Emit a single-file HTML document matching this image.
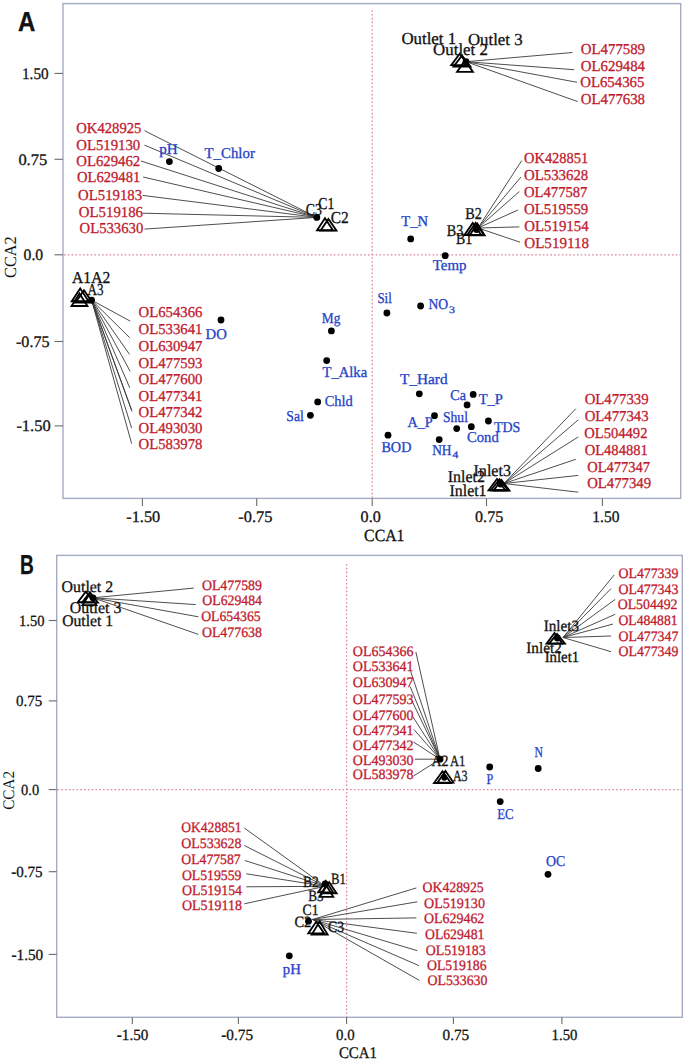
<!DOCTYPE html>
<html><head><meta charset="utf-8"><style>
html,body{margin:0;padding:0;background:#fff;}
body{width:685px;height:1060px;overflow:hidden;}
svg{display:block;}
</style></head><body>
<svg width="685" height="1060" viewBox="0 0 685 1060" text-rendering="geometricPrecision">
<rect width="685" height="1060" fill="#fff"/>
<rect x="63" y="3.6" width="617.7" height="494.79999999999995" fill="none" stroke="#a5abc3" stroke-width="1.4"/>
<line x1="64" y1="254.8" x2="680" y2="254.8" stroke="#dd8499" stroke-width="1.25" stroke-dasharray="1.6 2.2"/>
<line x1="372.2" y1="10.2" x2="372.2" y2="498" stroke="#dd8499" stroke-width="1.25" stroke-dasharray="1.6 2.2"/>
<line x1="54.5" y1="73.4" x2="63" y2="73.4" stroke="#6a6a6a" stroke-width="1.1"/>
<text x="22.00" y="78.80" font-size="16" fill="#111" stroke="#111" stroke-width="0.3" textLength="26.60" lengthAdjust="spacingAndGlyphs" font-family="Liberation Serif">1.50</text>
<line x1="54.5" y1="159.3" x2="63" y2="159.3" stroke="#6a6a6a" stroke-width="1.1"/>
<text x="18.40" y="164.70" font-size="16" fill="#111" stroke="#111" stroke-width="0.3" textLength="28.80" lengthAdjust="spacingAndGlyphs" font-family="Liberation Serif">0.75</text>
<line x1="54.5" y1="254.8" x2="63" y2="254.8" stroke="#6a6a6a" stroke-width="1.1"/>
<text x="23.60" y="260.20" font-size="16" fill="#111" stroke="#111" stroke-width="0.3" textLength="19.60" lengthAdjust="spacingAndGlyphs" font-family="Liberation Serif">0.0</text>
<line x1="54.5" y1="341.5" x2="63" y2="341.5" stroke="#6a6a6a" stroke-width="1.1"/>
<text x="16.00" y="346.90" font-size="16" fill="#111" stroke="#111" stroke-width="0.3" textLength="33.45" lengthAdjust="spacingAndGlyphs" font-family="Liberation Serif">-0.75</text>
<line x1="54.5" y1="425.9" x2="63" y2="425.9" stroke="#6a6a6a" stroke-width="1.1"/>
<text x="16.40" y="431.30" font-size="16" fill="#111" stroke="#111" stroke-width="0.3" textLength="34.25" lengthAdjust="spacingAndGlyphs" font-family="Liberation Serif">-1.50</text>
<line x1="142.4" y1="498.4" x2="142.4" y2="506" stroke="#6a6a6a" stroke-width="1.1"/>
<text x="126.30" y="522.20" font-size="16" fill="#111" stroke="#111" stroke-width="0.3" textLength="33.95" lengthAdjust="spacingAndGlyphs" font-family="Liberation Serif">-1.50</text>
<line x1="256.7" y1="498.4" x2="256.7" y2="506" stroke="#6a6a6a" stroke-width="1.1"/>
<text x="238.30" y="522.20" font-size="16" fill="#111" stroke="#111" stroke-width="0.3" textLength="34.05" lengthAdjust="spacingAndGlyphs" font-family="Liberation Serif">-0.75</text>
<line x1="372.2" y1="498.4" x2="372.2" y2="506" stroke="#6a6a6a" stroke-width="1.1"/>
<text x="360.60" y="522.20" font-size="16" fill="#111" stroke="#111" stroke-width="0.3" textLength="20.10" lengthAdjust="spacingAndGlyphs" font-family="Liberation Serif">0.0</text>
<line x1="486.5" y1="498.4" x2="486.5" y2="506" stroke="#6a6a6a" stroke-width="1.1"/>
<text x="475.10" y="522.20" font-size="16" fill="#111" stroke="#111" stroke-width="0.3" textLength="28.10" lengthAdjust="spacingAndGlyphs" font-family="Liberation Serif">0.75</text>
<line x1="602.4" y1="498.4" x2="602.4" y2="506" stroke="#6a6a6a" stroke-width="1.1"/>
<text x="592.30" y="522.20" font-size="16" fill="#111" stroke="#111" stroke-width="0.3" textLength="27.10" lengthAdjust="spacingAndGlyphs" font-family="Liberation Serif">1.50</text>
<text x="364.10" y="541.40" font-size="17" fill="#111" stroke="#111" stroke-width="0.3" textLength="40.44" lengthAdjust="spacingAndGlyphs" font-family="Liberation Serif">CCA1</text>
<text transform="translate(16.20,277.90) rotate(-90)" x="0" y="0" font-size="17" fill="#111" textLength="41.54" lengthAdjust="spacingAndGlyphs" font-family="Liberation Serif">CCA2</text>
<text x="18.00" y="30.80" font-size="27.5" fill="#111" stroke="#111" stroke-width="0.3" textLength="17.35" lengthAdjust="spacingAndGlyphs" font-family="Liberation Sans" font-weight="bold">A</text>
<line x1="466" y1="61.7" x2="572.4" y2="52.5" stroke="#3a3a3a" stroke-width="0.9"/>
<line x1="466" y1="61.7" x2="574.2" y2="69.7" stroke="#3a3a3a" stroke-width="0.9"/>
<line x1="466" y1="61.7" x2="577.1" y2="82.3" stroke="#3a3a3a" stroke-width="0.9"/>
<line x1="466" y1="61.7" x2="577.7" y2="101.6" stroke="#3a3a3a" stroke-width="0.9"/>
<text x="580.80" y="53.60" font-size="15.1" fill="#bf1a2e" stroke="#bf1a2e" stroke-width="0.3" textLength="64.24" lengthAdjust="spacingAndGlyphs" font-family="Liberation Serif">OL477589</text>
<text x="580.80" y="70.60" font-size="15.1" fill="#bf1a2e" stroke="#bf1a2e" stroke-width="0.3" textLength="64.24" lengthAdjust="spacingAndGlyphs" font-family="Liberation Serif">OL629484</text>
<text x="580.20" y="86.90" font-size="15.1" fill="#bf1a2e" stroke="#bf1a2e" stroke-width="0.3" textLength="64.24" lengthAdjust="spacingAndGlyphs" font-family="Liberation Serif">OL654365</text>
<text x="580.80" y="103.90" font-size="15.1" fill="#bf1a2e" stroke="#bf1a2e" stroke-width="0.3" textLength="64.24" lengthAdjust="spacingAndGlyphs" font-family="Liberation Serif">OL477638</text>
<path d="M459.70,53.78 L468.13,65.17 L451.27,65.17 Z" fill="none" stroke="#000" stroke-width="1.85" stroke-linejoin="miter"/>
<path d="M462.00,55.48 L470.43,66.67 L453.57,66.67 Z" fill="none" stroke="#000" stroke-width="1.85" stroke-linejoin="miter"/>
<path d="M465.00,60.48 L472.93,71.88 L457.07,71.88 Z" fill="none" stroke="#000" stroke-width="1.85" stroke-linejoin="miter"/>
<circle cx="466" cy="61.7" r="3.4" fill="#000"/>
<text x="401.40" y="44.30" font-size="16.8" fill="#111" stroke="#111" stroke-width="0.3" textLength="54.79" lengthAdjust="spacingAndGlyphs" font-family="Liberation Serif">Outlet 1</text>
<text x="467.90" y="45.30" font-size="16.8" fill="#111" stroke="#111" stroke-width="0.3" textLength="54.69" lengthAdjust="spacingAndGlyphs" font-family="Liberation Serif">Outlet 3</text>
<text x="433.10" y="55.00" font-size="16.8" fill="#111" stroke="#111" stroke-width="0.3" textLength="54.79" lengthAdjust="spacingAndGlyphs" font-family="Liberation Serif">Outlet 2</text>
<line x1="144.5" y1="130.7" x2="316.8" y2="217.4" stroke="#3a3a3a" stroke-width="0.9"/>
<line x1="144.5" y1="145.1" x2="316.8" y2="217.4" stroke="#3a3a3a" stroke-width="0.9"/>
<line x1="140.9" y1="161" x2="316.8" y2="217.4" stroke="#3a3a3a" stroke-width="0.9"/>
<line x1="143.1" y1="177" x2="316.8" y2="217.4" stroke="#3a3a3a" stroke-width="0.9"/>
<line x1="142.7" y1="195.4" x2="316.8" y2="217.4" stroke="#3a3a3a" stroke-width="0.9"/>
<line x1="142.7" y1="213.2" x2="316.8" y2="217.4" stroke="#3a3a3a" stroke-width="0.9"/>
<line x1="144.5" y1="229.1" x2="316.8" y2="217.4" stroke="#3a3a3a" stroke-width="0.9"/>
<text x="76.30" y="133.30" font-size="15.1" fill="#bf1a2e" stroke="#bf1a2e" stroke-width="0.3" textLength="65.06" lengthAdjust="spacingAndGlyphs" font-family="Liberation Serif">OK428925</text>
<text x="76.30" y="149.80" font-size="15.1" fill="#bf1a2e" stroke="#bf1a2e" stroke-width="0.3" textLength="63.94" lengthAdjust="spacingAndGlyphs" font-family="Liberation Serif">OL519130</text>
<text x="76.30" y="165.70" font-size="15.1" fill="#bf1a2e" stroke="#bf1a2e" stroke-width="0.3" textLength="63.94" lengthAdjust="spacingAndGlyphs" font-family="Liberation Serif">OL629462</text>
<text x="77.10" y="182.30" font-size="15.1" fill="#bf1a2e" stroke="#bf1a2e" stroke-width="0.3" textLength="63.14" lengthAdjust="spacingAndGlyphs" font-family="Liberation Serif">OL629481</text>
<text x="78.10" y="200.10" font-size="15.1" fill="#bf1a2e" stroke="#bf1a2e" stroke-width="0.3" textLength="63.94" lengthAdjust="spacingAndGlyphs" font-family="Liberation Serif">OL519183</text>
<text x="78.80" y="217.30" font-size="15.1" fill="#bf1a2e" stroke="#bf1a2e" stroke-width="0.3" textLength="64.24" lengthAdjust="spacingAndGlyphs" font-family="Liberation Serif">OL519186</text>
<text x="79.60" y="232.60" font-size="15.1" fill="#bf1a2e" stroke="#bf1a2e" stroke-width="0.3" textLength="63.64" lengthAdjust="spacingAndGlyphs" font-family="Liberation Serif">OL533630</text>
<text x="305.80" y="214.60" font-size="16.6" fill="#111" stroke="#111" stroke-width="0.3" textLength="16.16" lengthAdjust="spacingAndGlyphs" font-family="Liberation Serif">C3</text>
<path d="M325.00,218.28 L332.93,230.27 L317.07,230.27 Z" fill="none" stroke="#000" stroke-width="1.85" stroke-linejoin="miter"/>
<path d="M328.50,218.98 L336.43,230.57 L320.57,230.57 Z" fill="none" stroke="#000" stroke-width="1.85" stroke-linejoin="miter"/>
<circle cx="316.8" cy="217.4" r="3.4" fill="#000"/>
<text x="318.30" y="209.40" font-size="16.6" fill="#111" stroke="#111" stroke-width="0.3" textLength="15.96" lengthAdjust="spacingAndGlyphs" font-family="Liberation Serif">C1</text>
<text x="330.80" y="222.50" font-size="16.6" fill="#111" stroke="#111" stroke-width="0.3" textLength="17.95" lengthAdjust="spacingAndGlyphs" font-family="Liberation Serif">C2</text>
<line x1="478" y1="228" x2="521.7" y2="160.6" stroke="#3a3a3a" stroke-width="0.9"/>
<line x1="478" y1="228" x2="520.9" y2="177.1" stroke="#3a3a3a" stroke-width="0.9"/>
<line x1="478" y1="228" x2="519.3" y2="191.6" stroke="#3a3a3a" stroke-width="0.9"/>
<line x1="478" y1="228" x2="518" y2="210" stroke="#3a3a3a" stroke-width="0.9"/>
<line x1="478" y1="228" x2="519.3" y2="226.9" stroke="#3a3a3a" stroke-width="0.9"/>
<line x1="478" y1="228" x2="520.1" y2="242.2" stroke="#3a3a3a" stroke-width="0.9"/>
<text x="524.00" y="163.30" font-size="15.1" fill="#bf1a2e" stroke="#bf1a2e" stroke-width="0.3" textLength="64.26" lengthAdjust="spacingAndGlyphs" font-family="Liberation Serif">OK428851</text>
<text x="524.00" y="180.10" font-size="15.1" fill="#bf1a2e" stroke="#bf1a2e" stroke-width="0.3" textLength="64.24" lengthAdjust="spacingAndGlyphs" font-family="Liberation Serif">OL533628</text>
<text x="524.00" y="197.00" font-size="15.1" fill="#bf1a2e" stroke="#bf1a2e" stroke-width="0.3" textLength="63.44" lengthAdjust="spacingAndGlyphs" font-family="Liberation Serif">OL477587</text>
<text x="524.00" y="214.20" font-size="15.1" fill="#bf1a2e" stroke="#bf1a2e" stroke-width="0.3" textLength="64.24" lengthAdjust="spacingAndGlyphs" font-family="Liberation Serif">OL519559</text>
<text x="524.30" y="230.70" font-size="15.1" fill="#bf1a2e" stroke="#bf1a2e" stroke-width="0.3" textLength="64.34" lengthAdjust="spacingAndGlyphs" font-family="Liberation Serif">OL519154</text>
<text x="524.30" y="247.60" font-size="15.1" fill="#bf1a2e" stroke="#bf1a2e" stroke-width="0.3" textLength="64.64" lengthAdjust="spacingAndGlyphs" font-family="Liberation Serif">OL519118</text>
<text x="465.20" y="218.60" font-size="16.6" fill="#111" stroke="#111" stroke-width="0.3" textLength="16.56" lengthAdjust="spacingAndGlyphs" font-family="Liberation Serif">B2</text>
<text x="446.80" y="236.10" font-size="16.6" fill="#111" stroke="#111" stroke-width="0.3" textLength="16.56" lengthAdjust="spacingAndGlyphs" font-family="Liberation Serif">B3</text>
<text x="456.00" y="243.60" font-size="16.6" fill="#111" stroke="#111" stroke-width="0.3" textLength="16.16" lengthAdjust="spacingAndGlyphs" font-family="Liberation Serif">B1</text>
<path d="M472.80,222.98 L481.23,234.97 L464.37,234.97 Z" fill="none" stroke="#000" stroke-width="1.85" stroke-linejoin="miter"/>
<path d="M475.60,222.98 L484.03,234.97 L467.17,234.97 Z" fill="none" stroke="#000" stroke-width="1.85" stroke-linejoin="miter"/>
<path d="M477.20,223.48 L484.63,235.27 L469.77,235.27 Z" fill="none" stroke="#000" stroke-width="1.85" stroke-linejoin="miter"/>
<circle cx="476.5" cy="229.5" r="3.4" fill="#000"/>
<line x1="91.6" y1="300.1" x2="130.2" y2="321.1" stroke="#3a3a3a" stroke-width="0.9"/>
<line x1="91.6" y1="300.1" x2="129.8" y2="337.8" stroke="#3a3a3a" stroke-width="0.9"/>
<line x1="91.6" y1="300.1" x2="129.5" y2="354.4" stroke="#3a3a3a" stroke-width="0.9"/>
<line x1="91.6" y1="300.1" x2="130.2" y2="371.4" stroke="#3a3a3a" stroke-width="0.9"/>
<line x1="91.6" y1="300.1" x2="129.8" y2="387.8" stroke="#3a3a3a" stroke-width="0.9"/>
<line x1="91.6" y1="300.1" x2="131.5" y2="410" stroke="#3a3a3a" stroke-width="0.9"/>
<line x1="91.6" y1="300.1" x2="132.1" y2="411.5" stroke="#3a3a3a" stroke-width="0.9"/>
<line x1="91.6" y1="300.1" x2="131.7" y2="428.2" stroke="#3a3a3a" stroke-width="0.9"/>
<line x1="91.6" y1="300.1" x2="131.7" y2="443.7" stroke="#3a3a3a" stroke-width="0.9"/>
<text x="138.60" y="316.70" font-size="15.1" fill="#bf1a2e" stroke="#bf1a2e" stroke-width="0.3" textLength="63.84" lengthAdjust="spacingAndGlyphs" font-family="Liberation Serif">OL654366</text>
<text x="138.60" y="333.90" font-size="15.1" fill="#bf1a2e" stroke="#bf1a2e" stroke-width="0.3" textLength="63.84" lengthAdjust="spacingAndGlyphs" font-family="Liberation Serif">OL533641</text>
<text x="138.60" y="350.70" font-size="15.1" fill="#bf1a2e" stroke="#bf1a2e" stroke-width="0.3" textLength="63.84" lengthAdjust="spacingAndGlyphs" font-family="Liberation Serif">OL630947</text>
<text x="138.60" y="367.60" font-size="15.1" fill="#bf1a2e" stroke="#bf1a2e" stroke-width="0.3" textLength="63.84" lengthAdjust="spacingAndGlyphs" font-family="Liberation Serif">OL477593</text>
<text x="138.60" y="384.00" font-size="15.1" fill="#bf1a2e" stroke="#bf1a2e" stroke-width="0.3" textLength="63.84" lengthAdjust="spacingAndGlyphs" font-family="Liberation Serif">OL477600</text>
<text x="138.60" y="400.70" font-size="15.1" fill="#bf1a2e" stroke="#bf1a2e" stroke-width="0.3" textLength="63.84" lengthAdjust="spacingAndGlyphs" font-family="Liberation Serif">OL477341</text>
<text x="138.60" y="417.40" font-size="15.1" fill="#bf1a2e" stroke="#bf1a2e" stroke-width="0.3" textLength="63.84" lengthAdjust="spacingAndGlyphs" font-family="Liberation Serif">OL477342</text>
<text x="138.60" y="433.20" font-size="15.1" fill="#bf1a2e" stroke="#bf1a2e" stroke-width="0.3" textLength="63.84" lengthAdjust="spacingAndGlyphs" font-family="Liberation Serif">OL493030</text>
<text x="138.60" y="448.70" font-size="15.1" fill="#bf1a2e" stroke="#bf1a2e" stroke-width="0.3" textLength="63.84" lengthAdjust="spacingAndGlyphs" font-family="Liberation Serif">OL583978</text>
<text x="72.10" y="282.80" font-size="16.6" fill="#111" stroke="#111" stroke-width="0.3" textLength="38.07" lengthAdjust="spacingAndGlyphs" font-family="Liberation Serif">A1A2</text>
<text x="87.50" y="295.30" font-size="16.6" fill="#111" stroke="#111" stroke-width="0.3" textLength="16.03" lengthAdjust="spacingAndGlyphs" font-family="Liberation Serif">A3</text>
<path d="M80.20,288.48 L88.63,301.27 L71.77,301.27 Z" fill="none" stroke="#000" stroke-width="1.85" stroke-linejoin="miter"/>
<path d="M84.00,290.28 L92.43,302.57 L75.57,302.57 Z" fill="none" stroke="#000" stroke-width="1.85" stroke-linejoin="miter"/>
<path d="M79.50,293.48 L87.43,305.97 L71.57,305.97 Z" fill="none" stroke="#000" stroke-width="1.85" stroke-linejoin="miter"/>
<circle cx="91.6" cy="300.1" r="3.4" fill="#000"/>
<line x1="504" y1="483.5" x2="575.8" y2="408.7" stroke="#3a3a3a" stroke-width="0.9"/>
<line x1="504" y1="483.5" x2="578.2" y2="419.9" stroke="#3a3a3a" stroke-width="0.9"/>
<line x1="504" y1="483.5" x2="578.2" y2="437" stroke="#3a3a3a" stroke-width="0.9"/>
<line x1="504" y1="483.5" x2="575.8" y2="459.3" stroke="#3a3a3a" stroke-width="0.9"/>
<line x1="504" y1="483.5" x2="578.2" y2="475.4" stroke="#3a3a3a" stroke-width="0.9"/>
<line x1="504" y1="483.5" x2="578.2" y2="492.2" stroke="#3a3a3a" stroke-width="0.9"/>
<text x="584.70" y="404.40" font-size="15.1" fill="#bf1a2e" stroke="#bf1a2e" stroke-width="0.3" textLength="63.94" lengthAdjust="spacingAndGlyphs" font-family="Liberation Serif">OL477339</text>
<text x="584.70" y="420.80" font-size="15.1" fill="#bf1a2e" stroke="#bf1a2e" stroke-width="0.3" textLength="63.94" lengthAdjust="spacingAndGlyphs" font-family="Liberation Serif">OL477343</text>
<text x="584.30" y="438.00" font-size="15.1" fill="#bf1a2e" stroke="#bf1a2e" stroke-width="0.3" textLength="63.14" lengthAdjust="spacingAndGlyphs" font-family="Liberation Serif">OL504492</text>
<text x="584.70" y="454.80" font-size="15.1" fill="#bf1a2e" stroke="#bf1a2e" stroke-width="0.3" textLength="63.04" lengthAdjust="spacingAndGlyphs" font-family="Liberation Serif">OL484881</text>
<text x="587.20" y="471.60" font-size="15.1" fill="#bf1a2e" stroke="#bf1a2e" stroke-width="0.3" textLength="62.84" lengthAdjust="spacingAndGlyphs" font-family="Liberation Serif">OL477347</text>
<text x="587.20" y="487.90" font-size="15.1" fill="#bf1a2e" stroke="#bf1a2e" stroke-width="0.3" textLength="63.84" lengthAdjust="spacingAndGlyphs" font-family="Liberation Serif">OL477349</text>
<path d="M497.00,478.98 L505.43,490.27 L488.57,490.27 Z" fill="none" stroke="#000" stroke-width="1.85" stroke-linejoin="miter"/>
<path d="M499.50,479.28 L507.93,490.27 L491.07,490.27 Z" fill="none" stroke="#000" stroke-width="1.85" stroke-linejoin="miter"/>
<path d="M501.50,479.98 L509.43,490.57 L493.57,490.57 Z" fill="none" stroke="#000" stroke-width="1.85" stroke-linejoin="miter"/>
<circle cx="500.5" cy="484" r="3.4" fill="#000"/>
<text x="473.50" y="476.10" font-size="16.6" fill="#111" stroke="#111" stroke-width="0.3" textLength="37.54" lengthAdjust="spacingAndGlyphs" font-family="Liberation Serif">Inlet3</text>
<text x="447.80" y="482.20" font-size="16.6" fill="#111" stroke="#111" stroke-width="0.3" textLength="37.04" lengthAdjust="spacingAndGlyphs" font-family="Liberation Serif">Inlet2</text>
<text x="449.50" y="496.30" font-size="16.6" fill="#111" stroke="#111" stroke-width="0.3" textLength="37.04" lengthAdjust="spacingAndGlyphs" font-family="Liberation Serif">Inlet1</text>
<circle cx="169.4" cy="161.6" r="3.4" fill="#000"/>
<text x="159.30" y="153.50" font-size="15" fill="#2442c6" stroke="#2442c6" stroke-width="0.3" textLength="18.53" lengthAdjust="spacingAndGlyphs" font-family="Liberation Serif">pH</text>
<circle cx="218.7" cy="168.5" r="3.4" fill="#000"/>
<text x="204.50" y="157.50" font-size="15" fill="#2442c6" stroke="#2442c6" stroke-width="0.3" textLength="50.38" lengthAdjust="spacingAndGlyphs" font-family="Liberation Serif">T_Chlor</text>
<circle cx="410.7" cy="238.9" r="3.4" fill="#000"/>
<text x="401.20" y="226.10" font-size="15" fill="#2442c6" stroke="#2442c6" stroke-width="0.3" textLength="26.84" lengthAdjust="spacingAndGlyphs" font-family="Liberation Serif">T_N</text>
<circle cx="445.2" cy="255.7" r="3.4" fill="#000"/>
<text x="432.80" y="269.90" font-size="15" fill="#2442c6" stroke="#2442c6" stroke-width="0.3" textLength="33.74" lengthAdjust="spacingAndGlyphs" font-family="Liberation Serif">Temp</text>
<circle cx="386.9" cy="313" r="3.4" fill="#000"/>
<text x="377.40" y="303.20" font-size="15" fill="#2442c6" stroke="#2442c6" stroke-width="0.3" textLength="14.42" lengthAdjust="spacingAndGlyphs" font-family="Liberation Serif">Sil</text>
<circle cx="331.4" cy="330.9" r="3.4" fill="#000"/>
<text x="321.80" y="322.90" font-size="15" fill="#2442c6" stroke="#2442c6" stroke-width="0.3" textLength="18.59" lengthAdjust="spacingAndGlyphs" font-family="Liberation Serif">Mg</text>
<circle cx="221" cy="320" r="3.4" fill="#000"/>
<text x="205.50" y="339.10" font-size="15" fill="#2442c6" stroke="#2442c6" stroke-width="0.3" textLength="21.26" lengthAdjust="spacingAndGlyphs" font-family="Liberation Serif">DO</text>
<circle cx="326.7" cy="360.6" r="3.4" fill="#000"/>
<text x="322.50" y="377.20" font-size="15" fill="#2442c6" stroke="#2442c6" stroke-width="0.3" textLength="44.67" lengthAdjust="spacingAndGlyphs" font-family="Liberation Serif">T_Alka</text>
<circle cx="317.7" cy="401.9" r="3.4" fill="#000"/>
<text x="324.70" y="405.60" font-size="15" fill="#2442c6" stroke="#2442c6" stroke-width="0.3" textLength="28.17" lengthAdjust="spacingAndGlyphs" font-family="Liberation Serif">Chld</text>
<circle cx="310.4" cy="415.3" r="3.4" fill="#000"/>
<text x="286.30" y="420.70" font-size="15" fill="#2442c6" stroke="#2442c6" stroke-width="0.3" textLength="17.57" lengthAdjust="spacingAndGlyphs" font-family="Liberation Serif">Sal</text>
<circle cx="388" cy="435.2" r="3.4" fill="#000"/>
<text x="381.40" y="452.10" font-size="15" fill="#2442c6" stroke="#2442c6" stroke-width="0.3" textLength="30.02" lengthAdjust="spacingAndGlyphs" font-family="Liberation Serif">BOD</text>
<circle cx="419.3" cy="393.8" r="3.4" fill="#000"/>
<text x="399.90" y="384.30" font-size="15" fill="#2442c6" stroke="#2442c6" stroke-width="0.3" textLength="47.70" lengthAdjust="spacingAndGlyphs" font-family="Liberation Serif">T_Hard</text>
<circle cx="473.2" cy="394.4" r="3.4" fill="#000"/>
<text x="450.20" y="399.90" font-size="15" fill="#2442c6" stroke="#2442c6" stroke-width="0.3" textLength="15.81" lengthAdjust="spacingAndGlyphs" font-family="Liberation Serif">Ca</text>
<circle cx="467.1" cy="404.9" r="3.4" fill="#000"/>
<text x="478.70" y="403.70" font-size="15" fill="#2442c6" stroke="#2442c6" stroke-width="0.3" textLength="24.25" lengthAdjust="spacingAndGlyphs" font-family="Liberation Serif">T_P</text>
<circle cx="434.5" cy="415.7" r="3.4" fill="#000"/>
<text x="407.50" y="426.50" font-size="15" fill="#2442c6" stroke="#2442c6" stroke-width="0.3" textLength="25.28" lengthAdjust="spacingAndGlyphs" font-family="Liberation Serif">A_P</text>
<circle cx="456.7" cy="428.6" r="3.4" fill="#000"/>
<text x="443.00" y="422.10" font-size="15" fill="#2442c6" stroke="#2442c6" stroke-width="0.3" textLength="24.95" lengthAdjust="spacingAndGlyphs" font-family="Liberation Serif">Shul</text>
<circle cx="471.3" cy="426.7" r="3.4" fill="#000"/>
<text x="466.90" y="441.70" font-size="15" fill="#2442c6" stroke="#2442c6" stroke-width="0.3" textLength="31.86" lengthAdjust="spacingAndGlyphs" font-family="Liberation Serif">Cond</text>
<circle cx="488.4" cy="421" r="3.4" fill="#000"/>
<text x="493.90" y="432.20" font-size="15" fill="#2442c6" stroke="#2442c6" stroke-width="0.3" textLength="26.49" lengthAdjust="spacingAndGlyphs" font-family="Liberation Serif">TDS</text>
<circle cx="420.6" cy="306" r="3.4" fill="#000"/>
<text x="428.40" y="309.30" font-size="15" fill="#2442c6" stroke="#2442c6" stroke-width="0.3" textLength="19.66" lengthAdjust="spacingAndGlyphs" font-family="Liberation Serif">NO</text>
<text x="449.00" y="312.50" font-size="10" fill="#2442c6" stroke="#2442c6" stroke-width="0.3" textLength="6.00" lengthAdjust="spacingAndGlyphs" font-family="Liberation Serif">3</text>
<circle cx="439.2" cy="439.6" r="3.4" fill="#000"/>
<text x="432.20" y="455.00" font-size="15" fill="#2442c6" stroke="#2442c6" stroke-width="0.3" textLength="19.36" lengthAdjust="spacingAndGlyphs" font-family="Liberation Serif">NH</text>
<text x="452.50" y="458.20" font-size="10" fill="#2442c6" stroke="#2442c6" stroke-width="0.3" textLength="5.90" lengthAdjust="spacingAndGlyphs" font-family="Liberation Serif">4</text>
<rect x="56.7" y="555.4" width="625.5999999999999" height="461.9" fill="none" stroke="#a5abc3" stroke-width="1.4"/>
<line x1="57.5" y1="789.6" x2="681.5" y2="789.6" stroke="#dd8499" stroke-width="1.25" stroke-dasharray="1.6 2.2"/>
<line x1="346.6" y1="564" x2="346.6" y2="1017" stroke="#dd8499" stroke-width="1.25" stroke-dasharray="1.6 2.2"/>
<line x1="48.8" y1="620.5" x2="56.7" y2="620.5" stroke="#6a6a6a" stroke-width="1.1"/>
<text x="19.10" y="625.70" font-size="15.6" fill="#111" stroke="#111" stroke-width="0.3" textLength="25.40" lengthAdjust="spacingAndGlyphs" font-family="Liberation Serif">1.50</text>
<line x1="48.8" y1="700.9" x2="56.7" y2="700.9" stroke="#6a6a6a" stroke-width="1.1"/>
<text x="16.00" y="706.10" font-size="15.6" fill="#111" stroke="#111" stroke-width="0.3" textLength="26.20" lengthAdjust="spacingAndGlyphs" font-family="Liberation Serif">0.75</text>
<line x1="48.8" y1="789.6" x2="56.7" y2="789.6" stroke="#6a6a6a" stroke-width="1.1"/>
<text x="21.10" y="794.80" font-size="15.6" fill="#111" stroke="#111" stroke-width="0.3" textLength="18.00" lengthAdjust="spacingAndGlyphs" font-family="Liberation Serif">0.0</text>
<line x1="48.8" y1="871.7" x2="56.7" y2="871.7" stroke="#6a6a6a" stroke-width="1.1"/>
<text x="11.20" y="876.90" font-size="15.6" fill="#111" stroke="#111" stroke-width="0.3" textLength="31.34" lengthAdjust="spacingAndGlyphs" font-family="Liberation Serif">-0.75</text>
<line x1="48.8" y1="954.4" x2="56.7" y2="954.4" stroke="#6a6a6a" stroke-width="1.1"/>
<text x="11.40" y="959.60" font-size="15.6" fill="#111" stroke="#111" stroke-width="0.3" textLength="31.85" lengthAdjust="spacingAndGlyphs" font-family="Liberation Serif">-1.50</text>
<line x1="132.3" y1="1017.3" x2="132.3" y2="1024" stroke="#6a6a6a" stroke-width="1.1"/>
<text x="116.80" y="1039.80" font-size="15.6" fill="#111" stroke="#111" stroke-width="0.3" textLength="31.54" lengthAdjust="spacingAndGlyphs" font-family="Liberation Serif">-1.50</text>
<line x1="238.4" y1="1017.3" x2="238.4" y2="1024" stroke="#6a6a6a" stroke-width="1.1"/>
<text x="221.30" y="1039.80" font-size="15.6" fill="#111" stroke="#111" stroke-width="0.3" textLength="31.75" lengthAdjust="spacingAndGlyphs" font-family="Liberation Serif">-0.75</text>
<line x1="346.6" y1="1017.3" x2="346.6" y2="1024" stroke="#6a6a6a" stroke-width="1.1"/>
<text x="336.00" y="1039.80" font-size="15.6" fill="#111" stroke="#111" stroke-width="0.3" textLength="18.60" lengthAdjust="spacingAndGlyphs" font-family="Liberation Serif">0.0</text>
<line x1="453.4" y1="1017.3" x2="453.4" y2="1024" stroke="#6a6a6a" stroke-width="1.1"/>
<text x="442.50" y="1039.80" font-size="15.6" fill="#111" stroke="#111" stroke-width="0.3" textLength="26.70" lengthAdjust="spacingAndGlyphs" font-family="Liberation Serif">0.75</text>
<line x1="561.9" y1="1017.3" x2="561.9" y2="1024" stroke="#6a6a6a" stroke-width="1.1"/>
<text x="551.60" y="1039.80" font-size="15.6" fill="#111" stroke="#111" stroke-width="0.3" textLength="25.80" lengthAdjust="spacingAndGlyphs" font-family="Liberation Serif">1.50</text>
<text x="338.90" y="1057.60" font-size="16.2" fill="#111" stroke="#111" stroke-width="0.3" textLength="38.04" lengthAdjust="spacingAndGlyphs" font-family="Liberation Serif">CCA1</text>
<text transform="translate(14.00,809.80) rotate(-90)" x="0" y="0" font-size="16.2" fill="#111" textLength="38.84" lengthAdjust="spacingAndGlyphs" font-family="Liberation Serif">CCA2</text>
<text x="20.00" y="573.90" font-size="27.5" fill="#111" stroke="#111" stroke-width="0.3" textLength="13.84" lengthAdjust="spacingAndGlyphs" font-family="Liberation Sans" font-weight="bold">B</text>
<line x1="93" y1="597.8" x2="193.8" y2="588.1" stroke="#3a3a3a" stroke-width="0.9"/>
<line x1="93" y1="597.8" x2="195.8" y2="604.6" stroke="#3a3a3a" stroke-width="0.9"/>
<line x1="93" y1="597.8" x2="198.4" y2="616.8" stroke="#3a3a3a" stroke-width="0.9"/>
<line x1="93" y1="597.8" x2="198.4" y2="634.4" stroke="#3a3a3a" stroke-width="0.9"/>
<text x="201.90" y="589.50" font-size="14.4" fill="#bf1a2e" stroke="#bf1a2e" stroke-width="0.3" textLength="60.04" lengthAdjust="spacingAndGlyphs" font-family="Liberation Serif">OL477589</text>
<text x="202.30" y="605.30" font-size="14.4" fill="#bf1a2e" stroke="#bf1a2e" stroke-width="0.3" textLength="59.64" lengthAdjust="spacingAndGlyphs" font-family="Liberation Serif">OL629484</text>
<text x="201.20" y="621.40" font-size="14.4" fill="#bf1a2e" stroke="#bf1a2e" stroke-width="0.3" textLength="59.44" lengthAdjust="spacingAndGlyphs" font-family="Liberation Serif">OL654365</text>
<text x="201.90" y="636.80" font-size="14.4" fill="#bf1a2e" stroke="#bf1a2e" stroke-width="0.3" textLength="60.04" lengthAdjust="spacingAndGlyphs" font-family="Liberation Serif">OL477638</text>
<text x="61.60" y="592.30" font-size="16.1" fill="#111" stroke="#111" stroke-width="0.3" textLength="51.59" lengthAdjust="spacingAndGlyphs" font-family="Liberation Serif">Outlet 2</text>
<path d="M85.80,591.64 L93.77,602.10 L77.83,602.10 Z" fill="none" stroke="#000" stroke-width="1.8" stroke-linejoin="miter"/>
<path d="M90.00,592.24 L97.97,602.60 L82.03,602.60 Z" fill="none" stroke="#000" stroke-width="1.8" stroke-linejoin="miter"/>
<path d="M89.50,593.94 L96.47,605.10 L82.53,605.10 Z" fill="none" stroke="#000" stroke-width="1.8" stroke-linejoin="miter"/>
<circle cx="93" cy="597.8" r="3.4" fill="#000"/>
<text x="69.80" y="613.30" font-size="16.1" fill="#111" stroke="#111" stroke-width="0.3" textLength="51.59" lengthAdjust="spacingAndGlyphs" font-family="Liberation Serif">Outlet 3</text>
<text x="62.20" y="625.60" font-size="16.1" fill="#111" stroke="#111" stroke-width="0.3" textLength="50.99" lengthAdjust="spacingAndGlyphs" font-family="Liberation Serif">Outlet 1</text>
<line x1="415.9" y1="652" x2="440" y2="759.2" stroke="#3a3a3a" stroke-width="0.9"/>
<line x1="410.6" y1="671.2" x2="440" y2="759.2" stroke="#3a3a3a" stroke-width="0.9"/>
<line x1="410.2" y1="686.7" x2="440" y2="759.2" stroke="#3a3a3a" stroke-width="0.9"/>
<line x1="412" y1="700.9" x2="440" y2="759.2" stroke="#3a3a3a" stroke-width="0.9"/>
<line x1="412.7" y1="716.5" x2="440" y2="759.2" stroke="#3a3a3a" stroke-width="0.9"/>
<line x1="413.9" y1="729.5" x2="440" y2="759.2" stroke="#3a3a3a" stroke-width="0.9"/>
<line x1="413.5" y1="742" x2="440" y2="759.2" stroke="#3a3a3a" stroke-width="0.9"/>
<line x1="414.9" y1="759.2" x2="440" y2="759.2" stroke="#3a3a3a" stroke-width="0.9"/>
<line x1="413.5" y1="776" x2="440" y2="759.2" stroke="#3a3a3a" stroke-width="0.9"/>
<text x="352.80" y="655.70" font-size="14.4" fill="#bf1a2e" stroke="#bf1a2e" stroke-width="0.3" textLength="60.64" lengthAdjust="spacingAndGlyphs" font-family="Liberation Serif">OL654366</text>
<text x="352.80" y="671.40" font-size="14.4" fill="#bf1a2e" stroke="#bf1a2e" stroke-width="0.3" textLength="60.64" lengthAdjust="spacingAndGlyphs" font-family="Liberation Serif">OL533641</text>
<text x="352.80" y="687.20" font-size="14.4" fill="#bf1a2e" stroke="#bf1a2e" stroke-width="0.3" textLength="60.64" lengthAdjust="spacingAndGlyphs" font-family="Liberation Serif">OL630947</text>
<text x="352.80" y="703.50" font-size="14.4" fill="#bf1a2e" stroke="#bf1a2e" stroke-width="0.3" textLength="60.64" lengthAdjust="spacingAndGlyphs" font-family="Liberation Serif">OL477593</text>
<text x="352.80" y="719.50" font-size="14.4" fill="#bf1a2e" stroke="#bf1a2e" stroke-width="0.3" textLength="60.64" lengthAdjust="spacingAndGlyphs" font-family="Liberation Serif">OL477600</text>
<text x="352.80" y="734.50" font-size="14.4" fill="#bf1a2e" stroke="#bf1a2e" stroke-width="0.3" textLength="60.64" lengthAdjust="spacingAndGlyphs" font-family="Liberation Serif">OL477341</text>
<text x="352.80" y="749.70" font-size="14.4" fill="#bf1a2e" stroke="#bf1a2e" stroke-width="0.3" textLength="60.64" lengthAdjust="spacingAndGlyphs" font-family="Liberation Serif">OL477342</text>
<text x="352.80" y="764.70" font-size="14.4" fill="#bf1a2e" stroke="#bf1a2e" stroke-width="0.3" textLength="60.64" lengthAdjust="spacingAndGlyphs" font-family="Liberation Serif">OL493030</text>
<text x="352.80" y="779.20" font-size="14.4" fill="#bf1a2e" stroke="#bf1a2e" stroke-width="0.3" textLength="60.64" lengthAdjust="spacingAndGlyphs" font-family="Liberation Serif">OL583978</text>
<text x="431.40" y="766.30" font-size="15.7" fill="#111" stroke="#111" stroke-width="0.3" textLength="17.13" lengthAdjust="spacingAndGlyphs" font-family="Liberation Serif">A2</text>
<circle cx="440" cy="759.2" r="3.4" fill="#000"/>
<text x="450.00" y="765.60" font-size="15.7" fill="#111" stroke="#111" stroke-width="0.3" textLength="15.33" lengthAdjust="spacingAndGlyphs" font-family="Liberation Serif">A1</text>
<path d="M442.50,771.24 L450.97,783.00 L434.03,783.00 Z" fill="none" stroke="#000" stroke-width="1.8" stroke-linejoin="miter"/>
<path d="M445.50,770.94 L453.47,782.60 L437.53,782.60 Z" fill="none" stroke="#000" stroke-width="1.8" stroke-linejoin="miter"/>
<circle cx="444.3" cy="777.8" r="3.0" fill="#000"/>
<text x="452.90" y="780.60" font-size="15.7" fill="#111" stroke="#111" stroke-width="0.3" textLength="14.63" lengthAdjust="spacingAndGlyphs" font-family="Liberation Serif">A3</text>
<line x1="563" y1="637.5" x2="614.2" y2="574.9" stroke="#3a3a3a" stroke-width="0.9"/>
<line x1="563" y1="637.5" x2="611" y2="588.6" stroke="#3a3a3a" stroke-width="0.9"/>
<line x1="563" y1="637.5" x2="615.2" y2="599.4" stroke="#3a3a3a" stroke-width="0.9"/>
<line x1="563" y1="637.5" x2="615.2" y2="614.3" stroke="#3a3a3a" stroke-width="0.9"/>
<line x1="563" y1="637.5" x2="612.9" y2="624.1" stroke="#3a3a3a" stroke-width="0.9"/>
<line x1="563" y1="637.5" x2="611" y2="636" stroke="#3a3a3a" stroke-width="0.9"/>
<line x1="563" y1="637.5" x2="611" y2="651.7" stroke="#3a3a3a" stroke-width="0.9"/>
<text x="618.50" y="577.90" font-size="14.4" fill="#bf1a2e" stroke="#bf1a2e" stroke-width="0.3" textLength="59.84" lengthAdjust="spacingAndGlyphs" font-family="Liberation Serif">OL477339</text>
<text x="618.50" y="593.50" font-size="14.4" fill="#bf1a2e" stroke="#bf1a2e" stroke-width="0.3" textLength="59.84" lengthAdjust="spacingAndGlyphs" font-family="Liberation Serif">OL477343</text>
<text x="617.70" y="609.20" font-size="14.4" fill="#bf1a2e" stroke="#bf1a2e" stroke-width="0.3" textLength="59.84" lengthAdjust="spacingAndGlyphs" font-family="Liberation Serif">OL504492</text>
<text x="618.50" y="624.80" font-size="14.4" fill="#bf1a2e" stroke="#bf1a2e" stroke-width="0.3" textLength="59.04" lengthAdjust="spacingAndGlyphs" font-family="Liberation Serif">OL484881</text>
<text x="618.50" y="640.50" font-size="14.4" fill="#bf1a2e" stroke="#bf1a2e" stroke-width="0.3" textLength="59.84" lengthAdjust="spacingAndGlyphs" font-family="Liberation Serif">OL477347</text>
<text x="618.50" y="655.70" font-size="14.4" fill="#bf1a2e" stroke="#bf1a2e" stroke-width="0.3" textLength="59.84" lengthAdjust="spacingAndGlyphs" font-family="Liberation Serif">OL477349</text>
<text x="543.70" y="631.10" font-size="15.7" fill="#111" stroke="#111" stroke-width="0.3" textLength="35.44" lengthAdjust="spacingAndGlyphs" font-family="Liberation Serif">Inlet3</text>
<path d="M554.50,632.94 L562.47,643.70 L546.53,643.70 Z" fill="none" stroke="#000" stroke-width="1.8" stroke-linejoin="miter"/>
<path d="M557.00,633.84 L564.97,643.70 L549.03,643.70 Z" fill="none" stroke="#000" stroke-width="1.8" stroke-linejoin="miter"/>
<circle cx="557.3" cy="638" r="3.4" fill="#000"/>
<text x="526.30" y="652.60" font-size="15.7" fill="#111" stroke="#111" stroke-width="0.3" textLength="35.44" lengthAdjust="spacingAndGlyphs" font-family="Liberation Serif">Inlet2</text>
<text x="544.70" y="662.30" font-size="15.7" fill="#111" stroke="#111" stroke-width="0.3" textLength="34.44" lengthAdjust="spacingAndGlyphs" font-family="Liberation Serif">Inlet1</text>
<line x1="244.3" y1="828" x2="325.3" y2="886.3" stroke="#3a3a3a" stroke-width="0.9"/>
<line x1="244.3" y1="845.5" x2="325.3" y2="886.3" stroke="#3a3a3a" stroke-width="0.9"/>
<line x1="244.9" y1="860.5" x2="325.3" y2="886.3" stroke="#3a3a3a" stroke-width="0.9"/>
<line x1="246.3" y1="873.8" x2="325.3" y2="886.3" stroke="#3a3a3a" stroke-width="0.9"/>
<line x1="246.3" y1="886.8" x2="325.3" y2="886.3" stroke="#3a3a3a" stroke-width="0.9"/>
<line x1="244.3" y1="903.8" x2="325.3" y2="886.3" stroke="#3a3a3a" stroke-width="0.9"/>
<text x="181.30" y="832.00" font-size="14.4" fill="#bf1a2e" stroke="#bf1a2e" stroke-width="0.3" textLength="60.16" lengthAdjust="spacingAndGlyphs" font-family="Liberation Serif">OK428851</text>
<text x="181.30" y="848.10" font-size="14.4" fill="#bf1a2e" stroke="#bf1a2e" stroke-width="0.3" textLength="60.14" lengthAdjust="spacingAndGlyphs" font-family="Liberation Serif">OL533628</text>
<text x="181.30" y="863.90" font-size="14.4" fill="#bf1a2e" stroke="#bf1a2e" stroke-width="0.3" textLength="59.34" lengthAdjust="spacingAndGlyphs" font-family="Liberation Serif">OL477587</text>
<text x="181.90" y="879.70" font-size="14.4" fill="#bf1a2e" stroke="#bf1a2e" stroke-width="0.3" textLength="59.54" lengthAdjust="spacingAndGlyphs" font-family="Liberation Serif">OL519559</text>
<text x="181.90" y="895.20" font-size="14.4" fill="#bf1a2e" stroke="#bf1a2e" stroke-width="0.3" textLength="60.14" lengthAdjust="spacingAndGlyphs" font-family="Liberation Serif">OL519154</text>
<text x="181.90" y="910.20" font-size="14.4" fill="#bf1a2e" stroke="#bf1a2e" stroke-width="0.3" textLength="60.04" lengthAdjust="spacingAndGlyphs" font-family="Liberation Serif">OL519118</text>
<text x="303.10" y="887.10" font-size="15.7" fill="#111" stroke="#111" stroke-width="0.3" textLength="15.76" lengthAdjust="spacingAndGlyphs" font-family="Liberation Serif">B2</text>
<text x="331.10" y="884.10" font-size="15.7" fill="#111" stroke="#111" stroke-width="0.3" textLength="14.86" lengthAdjust="spacingAndGlyphs" font-family="Liberation Serif">B1</text>
<path d="M325.70,880.94 L333.17,892.30 L318.23,892.30 Z" fill="none" stroke="#000" stroke-width="1.8" stroke-linejoin="miter"/>
<path d="M329.20,882.24 L336.67,893.40 L321.73,893.40 Z" fill="none" stroke="#000" stroke-width="1.8" stroke-linejoin="miter"/>
<path d="M326.30,885.44 L333.27,896.90 L319.33,896.90 Z" fill="none" stroke="#000" stroke-width="1.8" stroke-linejoin="miter"/>
<circle cx="325.2" cy="883.8" r="3.4" fill="#000"/>
<text x="308.30" y="900.70" font-size="15.7" fill="#111" stroke="#111" stroke-width="0.3" textLength="15.36" lengthAdjust="spacingAndGlyphs" font-family="Liberation Serif">B3</text>
<line x1="312.6" y1="919.5" x2="416.4" y2="887.9" stroke="#3a3a3a" stroke-width="0.9"/>
<line x1="312.6" y1="919.5" x2="417.4" y2="901.8" stroke="#3a3a3a" stroke-width="0.9"/>
<line x1="312.6" y1="919.5" x2="416.4" y2="917.9" stroke="#3a3a3a" stroke-width="0.9"/>
<line x1="312.6" y1="919.5" x2="416.9" y2="933.3" stroke="#3a3a3a" stroke-width="0.9"/>
<line x1="312.6" y1="919.5" x2="417.4" y2="950.7" stroke="#3a3a3a" stroke-width="0.9"/>
<line x1="312.6" y1="919.5" x2="418.9" y2="965.6" stroke="#3a3a3a" stroke-width="0.9"/>
<line x1="312.6" y1="919.5" x2="419.4" y2="980.4" stroke="#3a3a3a" stroke-width="0.9"/>
<text x="422.50" y="892.10" font-size="14.4" fill="#bf1a2e" stroke="#bf1a2e" stroke-width="0.3" textLength="61.26" lengthAdjust="spacingAndGlyphs" font-family="Liberation Serif">OK428925</text>
<text x="424.00" y="907.80" font-size="14.4" fill="#bf1a2e" stroke="#bf1a2e" stroke-width="0.3" textLength="60.94" lengthAdjust="spacingAndGlyphs" font-family="Liberation Serif">OL519130</text>
<text x="424.00" y="922.70" font-size="14.4" fill="#bf1a2e" stroke="#bf1a2e" stroke-width="0.3" textLength="60.34" lengthAdjust="spacingAndGlyphs" font-family="Liberation Serif">OL629462</text>
<text x="425.00" y="939.30" font-size="14.4" fill="#bf1a2e" stroke="#bf1a2e" stroke-width="0.3" textLength="59.34" lengthAdjust="spacingAndGlyphs" font-family="Liberation Serif">OL629481</text>
<text x="425.80" y="954.70" font-size="14.4" fill="#bf1a2e" stroke="#bf1a2e" stroke-width="0.3" textLength="59.84" lengthAdjust="spacingAndGlyphs" font-family="Liberation Serif">OL519183</text>
<text x="427.00" y="970.30" font-size="14.4" fill="#bf1a2e" stroke="#bf1a2e" stroke-width="0.3" textLength="59.64" lengthAdjust="spacingAndGlyphs" font-family="Liberation Serif">OL519186</text>
<text x="427.50" y="985.20" font-size="14.4" fill="#bf1a2e" stroke="#bf1a2e" stroke-width="0.3" textLength="59.94" lengthAdjust="spacingAndGlyphs" font-family="Liberation Serif">OL533630</text>
<text x="302.60" y="915.20" font-size="15.7" fill="#111" stroke="#111" stroke-width="0.3" textLength="15.86" lengthAdjust="spacingAndGlyphs" font-family="Liberation Serif">C1</text>
<text x="294.40" y="927.00" font-size="15.7" fill="#111" stroke="#111" stroke-width="0.3" textLength="16.96" lengthAdjust="spacingAndGlyphs" font-family="Liberation Serif">C2</text>
<circle cx="308.5" cy="921.2" r="3.4" fill="#000"/>
<path d="M316.20,921.74 L324.17,933.40 L308.23,933.40 Z" fill="none" stroke="#000" stroke-width="1.8" stroke-linejoin="miter"/>
<path d="M319.70,921.44 L327.67,934.50 L311.73,934.50 Z" fill="none" stroke="#000" stroke-width="1.8" stroke-linejoin="miter"/>
<text x="328.10" y="932.40" font-size="15.7" fill="#111" stroke="#111" stroke-width="0.3" textLength="15.96" lengthAdjust="spacingAndGlyphs" font-family="Liberation Serif">C3</text>
<circle cx="489.7" cy="767" r="3.4" fill="#000"/>
<text x="486.60" y="783.60" font-size="15" fill="#2442c6" stroke="#2442c6" stroke-width="0.3" textLength="6.75" lengthAdjust="spacingAndGlyphs" font-family="Liberation Serif">P</text>
<circle cx="538.2" cy="768.5" r="3.4" fill="#000"/>
<text x="534.40" y="757.00" font-size="15" fill="#2442c6" stroke="#2442c6" stroke-width="0.3" textLength="8.43" lengthAdjust="spacingAndGlyphs" font-family="Liberation Serif">N</text>
<circle cx="500.2" cy="801.6" r="3.4" fill="#000"/>
<text x="497.20" y="818.60" font-size="15" fill="#2442c6" stroke="#2442c6" stroke-width="0.3" textLength="16.37" lengthAdjust="spacingAndGlyphs" font-family="Liberation Serif">EC</text>
<circle cx="548" cy="874.3" r="3.4" fill="#000"/>
<text x="546.00" y="866.10" font-size="15" fill="#2442c6" stroke="#2442c6" stroke-width="0.3" textLength="19.29" lengthAdjust="spacingAndGlyphs" font-family="Liberation Serif">OC</text>
<circle cx="289.3" cy="955.8" r="3.4" fill="#000"/>
<text x="282.80" y="974.00" font-size="15" fill="#2442c6" stroke="#2442c6" stroke-width="0.3" textLength="18.03" lengthAdjust="spacingAndGlyphs" font-family="Liberation Serif">pH</text>
</svg>
</body></html>
